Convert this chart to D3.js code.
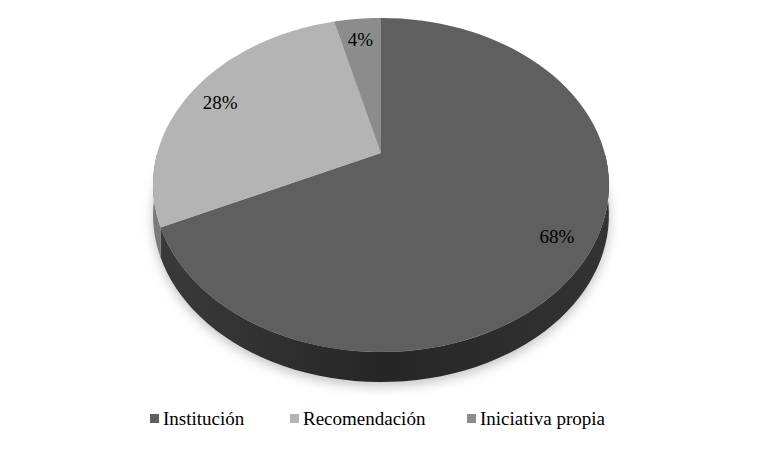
<!DOCTYPE html><html><head><meta charset="utf-8"><script src="https://cdn.jsdelivr.net/npm/d3@7"></script>
<style>body{margin:0;background:#fff}</style></head><body><svg id="c" width="764" height="457"></svg>
<script>
const categories=["Institución","Recomendación","Iniciativa propia"];
const values=[68,28,4];
const labels=["68%","28%","4%"];
const topCol=["#5f5f5f","#b4b4b4","#8c8c8c"];
const sideCol=["#2b2b2b","#7a7a7a","#555"];
const svg=d3.select("#c");
const cx=381,cy=153,R=223.7,k=0.1916,A=160.9,depth=30;
function P(a,f=1,dy=0){const xc=Math.sin(a)*f,z=-Math.cos(a)*f;const s=1-k*z;return [cx+R*xc/s,cy+A*z/s+dy];}
const arcs=d3.pie().sort(null).value(d=>d)(values);
const defs=svg.append("defs");
defs.append("filter").attr("id","blur").append("feGaussianBlur").attr("stdDeviation",6);
const g=defs.append("linearGradient").attr("id","sg").attr("x1",0).attr("x2",1);
g.append("stop").attr("offset",0).attr("stop-color","#3a3a3a");
g.append("stop").attr("offset",0.5).attr("stop-color","#262626");
g.append("stop").attr("offset",1).attr("stop-color","#333");
// shadow
const sh=[];for(let i=0;i<=100;i++)sh.push(P(i/100*2*Math.PI,1,depth+4));
svg.append("path").attr("d",d3.line()(sh)+"Z").attr("fill","#999").attr("opacity",0.6).attr("filter","url(#blur)");
const line=d3.line();
// sides
arcs.forEach((d,i)=>{const a1=Math.max(d.startAngle,Math.PI/2),a2=Math.min(d.endAngle,1.5*Math.PI);if(a2<=a1)return;
 const top=[],bot=[];for(let j=0;j<=60;j++){const a=a1+(a2-a1)*j/60;top.push(P(a));bot.push(P(a,1,depth));}
 svg.append("path").attr("d",line(top.concat(bot.reverse()))+"Z").attr("fill",i==0?"url(#sg)":sideCol[i]);});
// tops
arcs.forEach((d,i)=>{const pts=[[cx,cy]];for(let j=0;j<=80;j++)pts.push(P(d.startAngle+(d.endAngle-d.startAngle)*j/80));
 svg.append("path").attr("d",line(pts)+"Z").attr("fill",topCol[i]);
 const m=P((d.startAngle+d.endAngle)/2,0.85);
 svg.append("text").attr("x",m[0]).attr("y",m[1]+10).attr("text-anchor","middle").attr("font-family","Liberation Serif").attr("font-size",19).attr("fill","#000").text(labels[i]);});
// legend
const lx=[150,290,467];
categories.forEach((c,i)=>{svg.append("rect").attr("x",lx[i]).attr("y",414).attr("width",9).attr("height",9).attr("fill",topCol[i]);
 svg.append("text").attr("x",lx[i]+13).attr("y",425).attr("font-family","Liberation Serif").attr("font-size",19).text(c);});
</script></body></html>
